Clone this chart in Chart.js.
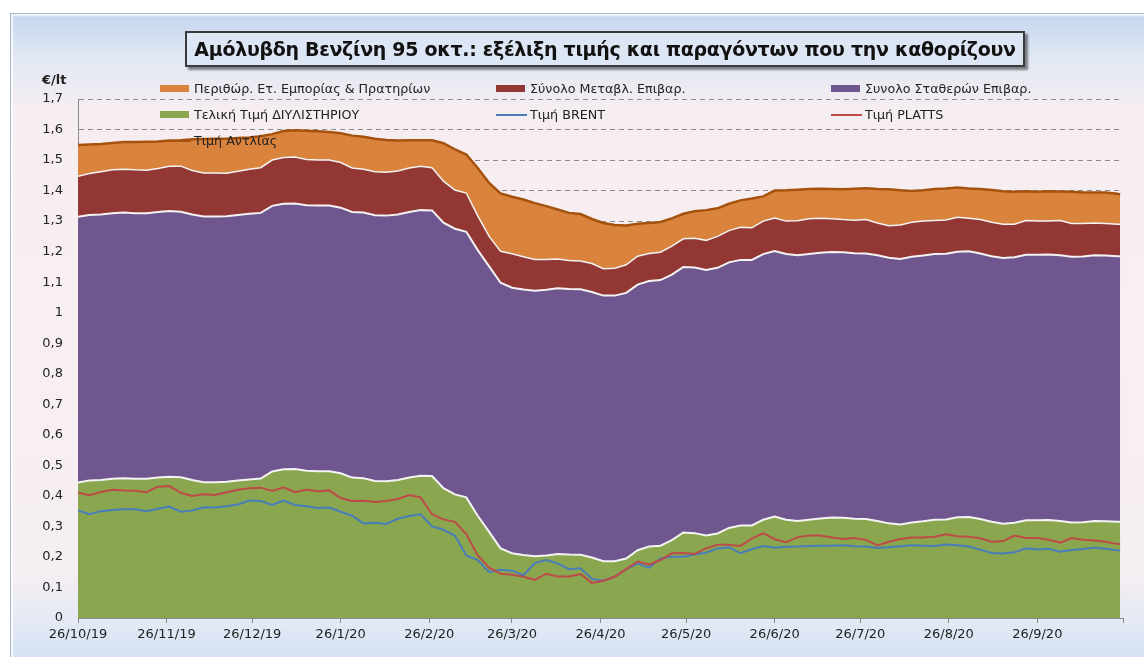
<!DOCTYPE html>
<html>
<head>
<meta charset="utf-8">
<script src="https://cdn.jsdelivr.net/npm/chart.js@4.4.1/dist/chart.umd.min.js"></script>
<style>
  html, body { margin: 0; padding: 0; background: #fff; overflow: hidden; }
  #wrap { position: relative; width: 1144px; height: 657px; font-family: "DejaVu Sans", Verdana, sans-serif; }
  #frame { position: absolute; left: 10px; top: 13px; width: 1150px; height: 660px; border: 1px solid #a9b9cf;
    background: linear-gradient(to bottom, #c3d5ee 0px, #e2e8f4 45px, #f5edf1 95px, #f8eff0 300px, #f5eef2 560px, #e2e9f5 612px, #d3dff2 650px);
    box-shadow: inset 2px 2px 2px rgba(255,255,255,.8); }
  #title { position: absolute; left: 185px; top: 31px; width: 836px; height: 32px; border: 2px solid #3a3a3a;
    background: #dde6f4; box-shadow: 3px 3px 2px rgba(0,0,0,.45); font-weight: bold; font-size: 19px; letter-spacing: -0.3px;
    line-height: 32px; text-align: center; color: #111; white-space: nowrap; z-index: 3; }
  #unit { position: absolute; left: 42px; top: 72px; font-weight: bold; font-size: 13px; color: #222; z-index: 3; }
  canvas { position: absolute; left: 0; top: 0; z-index: 2; }
  #legend { position: absolute; left: 0; top: 0; z-index: 3; }
  .lg { position: absolute; font-size: 12.7px; color: #222; white-space: nowrap; line-height: 14px; }
  .sw { position: absolute; }
</style>
</head>
<body>
<div id="wrap">
  <div id="frame"></div>
  <div id="title">Αμόλυβδη Βενζίνη 95 οκτ.: εξέλιξη τιμής και παραγόντων που την καθορίζουν</div>
  <div id="unit">€/lt</div>
  <canvas id="chart" width="1144" height="657"></canvas>
  <div id="legend"></div>
</div>
<script>
// x axis: days after 26/10/19
const tickDays   = [0, 31, 61, 92, 123, 152, 183, 213, 244, 274, 305, 336, 366];
const tickLabels = ['26/10/19','26/11/19','26/12/19','26/1/20','26/2/20','26/3/20','26/4/20','26/5/20','26/6/20','26/7/20','26/8/20','26/9/20',''];

// sample days (every 4 days, last one at day 365)
const days = [];
for (let d = 0; d <= 364; d += 4) days.push(d);
days.push(365);

// €/lt
const refinery = [
  0.444,0.450,0.452,0.456,0.458,0.456,0.456,0.460,0.463,0.461,0.452,0.445,0.445,0.446,0.450,0.454,0.457,0.480,0.487,0.488,0.482,0.481,0.481,0.474,0.460,0.458,0.449,0.448,0.452,0.460,0.466,
  0.465,0.425,0.405,0.395,0.335,0.282,0.228,0.212,0.206,0.202,0.205,0.210,0.208,0.207,0.198,0.186,0.186,0.195,0.222,0.234,0.237,0.255,0.280,0.278,0.270,0.277,0.295,0.303,0.303,0.322,
  0.332,0.322,0.318,0.322,0.326,0.329,0.328,0.325,0.324,0.318,0.310,0.306,0.313,0.317,0.322,0.323,0.330,0.331,0.324,0.315,0.309,0.312,0.320,0.320,0.321,0.318,0.313,0.314,0.318,0.317,0.315,0.315];
const fixedTax = [
  0.87,0.87,0.87,0.87,0.87,0.87,0.87,0.87,0.87,0.87,0.87,0.87,0.87,0.87,0.87,0.87,0.87,0.87,0.87,0.87,0.87,0.87,0.87,0.87,0.87,0.87,0.87,0.87,0.87,0.87,0.87,
  0.87,0.87,0.87,0.87,0.87,0.87,0.87,0.87,0.87,0.87,0.87,0.87,0.87,0.87,0.87,0.87,0.87,0.87,0.87,0.87,0.87,0.87,0.87,0.87,0.87,0.87,0.87,0.87,0.87,0.87,
  0.87,0.87,0.87,0.87,0.87,0.87,0.87,0.87,0.87,0.87,0.87,0.87,0.87,0.87,0.87,0.87,0.87,0.87,0.87,0.87,0.87,0.87,0.87,0.87,0.87,0.87,0.87,0.87,0.87,0.87,0.87,0.87];
const varTax = [
  0.133,0.136,0.140,0.142,0.142,0.142,0.141,0.142,0.147,0.149,0.144,0.143,0.143,0.141,0.143,0.146,0.148,0.150,0.151,0.152,0.150,0.149,0.149,0.148,0.144,0.142,0.143,0.142,0.142,0.144,0.144,
  0.140,0.136,0.127,0.127,0.112,0.098,0.103,0.111,0.107,0.102,0.099,0.096,0.093,0.092,0.093,0.088,0.090,0.092,0.093,0.090,0.091,0.093,0.092,0.096,0.097,0.103,0.104,0.107,0.105,0.108,
  0.108,0.108,0.113,0.116,0.113,0.109,0.107,0.108,0.111,0.106,0.105,0.111,0.113,0.113,0.110,0.111,0.113,0.108,0.111,0.111,0.111,0.108,0.112,0.110,0.109,0.114,0.109,0.108,0.106,0.105,0.105,0.105];
const margin = [
  0.102,0.095,0.091,0.088,0.089,0.091,0.093,0.089,0.084,0.085,0.102,0.111,0.112,0.113,0.109,0.104,0.103,0.085,0.087,0.088,0.094,0.094,0.092,0.096,0.106,0.106,0.108,0.106,0.100,0.091,0.085,
  0.089,0.124,0.133,0.126,0.157,0.175,0.190,0.187,0.188,0.185,0.175,0.162,0.156,0.154,0.146,0.150,0.141,0.129,0.106,0.100,0.099,0.091,0.082,0.088,0.099,0.092,0.088,0.088,0.096,0.081,
  0.090,0.101,0.102,0.097,0.097,0.097,0.099,0.103,0.103,0.111,0.119,0.114,0.103,0.101,0.103,0.103,0.097,0.098,0.100,0.106,0.108,0.106,0.096,0.096,0.098,0.095,0.104,0.102,0.100,0.102,0.100,0.097];
const pump = [
  1.549,1.551,1.553,1.556,1.559,1.559,1.560,1.561,1.564,1.565,1.568,1.569,1.570,1.570,1.572,1.574,1.578,1.585,1.595,1.598,1.596,1.594,1.592,1.588,1.580,1.576,1.570,1.566,1.564,1.565,1.565,
  1.565,1.555,1.535,1.518,1.474,1.425,1.391,1.380,1.371,1.359,1.349,1.338,1.327,1.323,1.307,1.294,1.287,1.286,1.291,1.294,1.297,1.309,1.324,1.332,1.336,1.342,1.357,1.368,1.374,1.381,
  1.400,1.401,1.403,1.405,1.406,1.405,1.404,1.406,1.408,1.405,1.404,1.401,1.399,1.401,1.405,1.407,1.410,1.407,1.405,1.402,1.398,1.396,1.398,1.396,1.398,1.397,1.396,1.394,1.394,1.394,1.390,1.387];
const brent = [
  0.352,0.340,0.350,0.354,0.356,0.356,0.350,0.358,0.365,0.348,0.352,0.363,0.362,0.366,0.372,0.385,0.383,0.370,0.385,0.370,0.366,0.360,0.362,0.348,0.335,0.310,0.312,0.308,0.325,0.334,0.340,
  0.300,0.289,0.270,0.205,0.190,0.150,0.158,0.155,0.140,0.180,0.190,0.179,0.160,0.163,0.128,0.122,0.135,0.160,0.178,0.165,0.195,0.201,0.201,0.208,0.214,0.228,0.232,0.212,0.225,0.236,
  0.230,0.233,0.234,0.236,0.237,0.237,0.238,0.235,0.234,0.229,0.232,0.235,0.238,0.237,0.236,0.241,0.238,0.234,0.224,0.213,0.211,0.215,0.228,0.224,0.227,0.217,0.223,0.226,0.230,0.227,0.222,0.221];
const platts = [
  0.411,0.402,0.413,0.420,0.418,0.417,0.412,0.430,0.432,0.410,0.400,0.405,0.403,0.412,0.420,0.425,0.427,0.416,0.428,0.412,0.420,0.415,0.418,0.393,0.383,0.384,0.380,0.383,0.390,0.403,0.395,
  0.340,0.323,0.315,0.275,0.205,0.165,0.145,0.142,0.135,0.125,0.145,0.136,0.136,0.144,0.115,0.122,0.135,0.160,0.185,0.175,0.190,0.212,0.213,0.210,0.228,0.240,0.240,0.236,0.260,0.278,
  0.258,0.248,0.265,0.270,0.270,0.264,0.259,0.262,0.256,0.238,0.250,0.259,0.264,0.264,0.266,0.274,0.268,0.266,0.261,0.250,0.252,0.270,0.262,0.262,0.256,0.247,0.262,0.256,0.254,0.250,0.242,0.242];

const pts = arr => arr.map((v, i) => ({ x: days[i], y: v }));
const WHITE = '#f3f3f3';

// index 0 is drawn on top; areas stack bottom-up in index order
const datasets = [
  { label:'Τιμή Αντλίας', data:pts(pump), stack:'pump', borderColor:'#a5520f', borderWidth:2.5, fill:false },
  { label:'Τιμή PLATTS', data:pts(platts), stack:'platts', borderColor:'#be4b48', borderWidth:2, fill:false },
  { label:'Τιμή BRENT', data:pts(brent), stack:'brent', borderColor:'#4a7ebb', borderWidth:2, fill:false },
  { label:'Τελική Τιμή ΔΙΥΛΙΣΤΗΡΙΟΥ', data:pts(refinery), stack:'price', borderColor:WHITE, borderWidth:2, backgroundColor:'#8aa64e', fill:'origin' },
  { label:'Συνολο Σταθερών Επιβαρ.', data:pts(fixedTax), stack:'price', borderColor:WHITE, borderWidth:2, backgroundColor:'#6f568e', fill:'-1' },
  { label:'Σύνολο Μεταβλ. Επιβαρ.', data:pts(varTax), stack:'price', borderColor:WHITE, borderWidth:1.5, backgroundColor:'#933735', fill:'-1' },
  { label:'Περιθώρ. Ετ. Εμπορίας & Πρατηρίων', data:pts(margin), stack:'price', borderColor:'rgba(0,0,0,0)', borderWidth:0, backgroundColor:'#d9833d', fill:'-1' }
];

const FONT = { family:'"DejaVu Sans", Verdana, sans-serif', size:13 };

new Chart(document.getElementById('chart'), {
  type:'line',
  data:{ datasets },
  options:{
    responsive:false, animation:false,
    layout:{ padding:{ left:0, right:21, top:99, bottom:0 } },
    elements:{ point:{ radius:0, hoverRadius:0 }, line:{ tension:0 } },
    plugins:{ legend:{ display:false }, tooltip:{ enabled:false } },
    scales:{
      x:{ type:'linear', min:0, max:366,
          afterBuildTicks: s => { s.ticks = tickDays.map(v => ({ value:v })); },
          afterFit: s => { s.height = 39; },
          ticks:{ autoSkip:false, maxRotation:0, padding:4, color:'#222', font:FONT,
                  callback: v => { const i = tickDays.indexOf(v); return i < 0 ? '' : tickLabels[i]; } },
          grid:{ drawOnChartArea:false, drawTicks:true, tickLength:5, color:'#8a8a8a' },
          border:{ color:'#8a8a8a', width:1 } },
      y:{ stacked:true, min:0, max:1.7,
          afterFit: s => { s.width = 78; },
          ticks:{ stepSize:0.1, padding:15, color:'#222', font:FONT,
                  callback: v => String(Math.round(v * 10) / 10).replace('.', ',') },
          grid:{ drawTicks:false, color:'#8c8c8c', lineWidth:1 },
          border:{ color:'#8a8a8a', width:1, dash:[5,4] } }
    }
  }
});

// legend: 3 columns x 3 rows, as in the original
const legendCols = [160, 496, 831];
const legendRows = [89, 115, 141];
const legendItems = [
  { ds:6, col:0, row:0, kind:'box' }, { ds:5, col:1, row:0, kind:'box' }, { ds:4, col:2, row:0, kind:'box' },
  { ds:3, col:0, row:1, kind:'box' }, { ds:2, col:1, row:1, kind:'line' }, { ds:1, col:2, row:1, kind:'line' },
  { ds:0, col:0, row:2, kind:'line' }
];
const lg = document.getElementById('legend');
legendItems.forEach(it => {
  const d = datasets[it.ds];
  const x = legendCols[it.col], y = legendRows[it.row];
  const sw = document.createElement('div');
  sw.className = 'sw';
  if (it.kind === 'box') {
    sw.style.cssText = `left:${x}px;top:${y-4}px;width:29px;height:7px;background:${d.backgroundColor}`;
  } else {
    sw.style.cssText = `left:${x}px;top:${y-1}px;width:31px;height:2px;background:${d.borderColor}`;
  }
  lg.appendChild(sw);
  const t = document.createElement('div');
  t.className = 'lg';
  t.style.left = (x + 34) + 'px';
  t.style.top = (y - 7) + 'px';
  t.textContent = d.label;
  lg.appendChild(t);
});
</script>
</body>
</html>
